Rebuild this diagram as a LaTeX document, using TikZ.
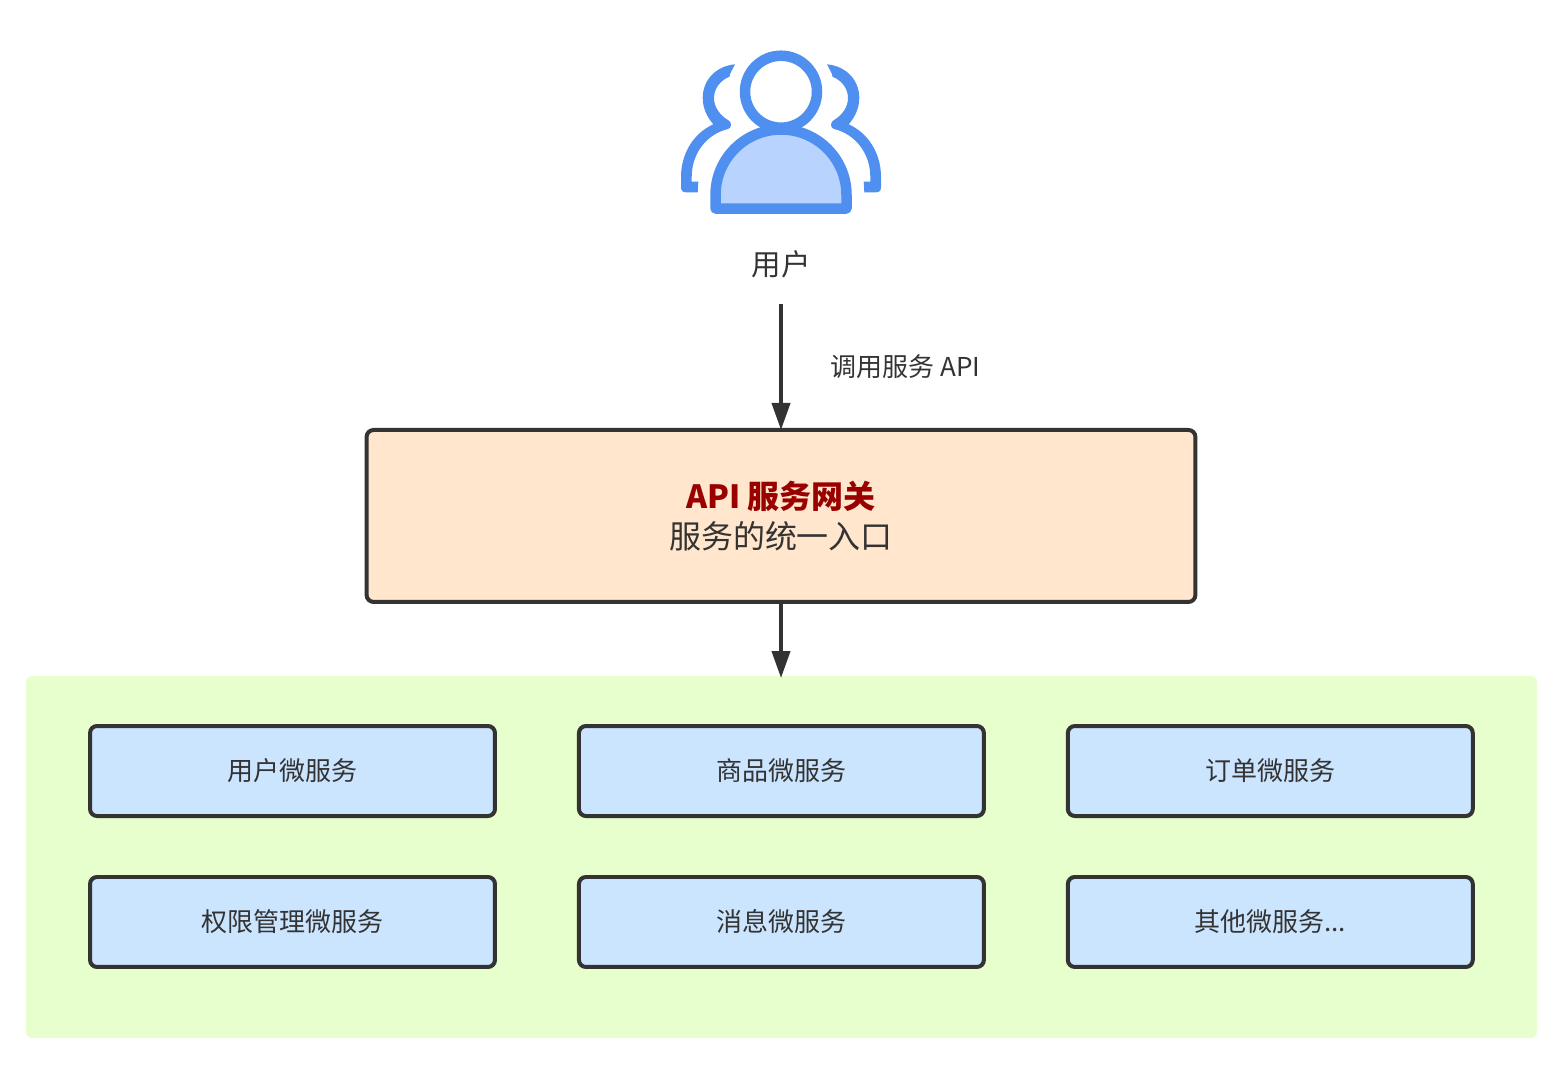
\documentclass[tikz,border=0pt]{standalone}
\usepackage{fontspec}
\setmainfont{Noto Sans CJK SC}
\usetikzlibrary{arrows.meta, positioning}
\definecolor{inkgray}{HTML}{333333}
\definecolor{iconblue}{HTML}{4F8FF0}
\definecolor{iconfill}{HTML}{B9D3FF}
\definecolor{gatefill}{HTML}{FFE6CC}
\definecolor{groupfill}{HTML}{E6FFCC}
\definecolor{svcfill}{HTML}{CCE5FF}
\definecolor{gatetitle}{HTML}{990000}

\begin{document}
\begin{tikzpicture}[
    x=0.02cm, y=-0.02cm,
    node distance=1.22cm and 1.68cm,
    text=inkgray,
    gateway/.style={rectangle, draw=inkgray, fill=gatefill, line width=0.08cm, rounded corners=0.14cm, outer sep=0pt, minimum width=16.58cm, minimum height=3.44cm, align=center, font=\fontsize{18.2}{22.8}\selectfont},
    service/.style={rectangle, draw=inkgray, fill=svcfill, line width=0.08cm, rounded corners=0.14cm, outer sep=0pt, minimum width=8.1cm, minimum height=1.8cm, font=\fontsize{14.8}{18}\selectfont},
    group_box/.style={rectangle, fill=groupfill, rounded corners=0.12cm, outer sep=0pt, minimum width=30.22cm, minimum height=7.24cm},
    arrow/.style={-{Triangle[length=0.54cm, width=0.36cm]}, line width=0.08cm, draw=inkgray},
    iconline/.style={draw=iconblue, line width=0.21cm, line join=round}
]
\useasboundingbox (0,0) rectangle (1567,1076);
% ---------------- USER ICON ----------------
\foreach \flip in {1,-1} {
  \begin{scope}[shift={(781,0)}, xscale=\flip]
    \fill[iconblue] (-46,64.3) .. controls (-65,66) and (-78.3,80) .. (-78.3,98)
      .. controls (-78.3,108) and (-74,117) .. (-67.7,124.3)
      .. controls (-87,133) and (-100,153) .. (-100,177) -- (-100,187)
      .. controls (-100,190.5) and (-98.5,192.3) .. (-95,192.3)
      -- (-83.3,192.3) -- (-82.7,181.7) -- (-89.3,181.7) -- (-89.3,177)
      .. controls (-89.3,153) and (-74,134) .. (-53,129)
      .. controls (-49,128) and (-49,122) .. (-53,120)
      .. controls (-60,116) and (-67,108) .. (-67,98)
      .. controls (-67,88) and (-60,80) .. (-51.5,76.7) -- (-51,74) -- cycle;
  \end{scope}
}
\draw[iconline, fill=white] (781,91.7) circle[radius=36];
\draw[iconline, fill=iconfill] (715.5,208.5) -- (715.5,195) arc[start angle=180, end angle=360, radius=65.5] -- (846.5,208.5) -- cycle;
% ---------------- NODES ----------------
\node[minimum height=1.6cm, inner sep=0pt, outer sep=0pt, font=\fontsize{16.8}{20}\selectfont] (user) at (781,264) {用户};
\node[gateway, below=2.52cm of user] (gate) {{\bfseries\color{gatetitle}API 服务网关}\\服务的统一入口};
\node[group_box] (services) at (781.5,857) {};
\node[service] (svcuser) at (292.5,771) {用户微服务};
\node[service, right=of svcuser] (svcgoods) {商品微服务};
\node[service, right=of svcgoods] (svcorder) {订单微服务};
\node[service, below=of svcuser] (svcauth) {权限管理微服务};
\node[service, right=of svcauth] (svcmsg) {消息微服务};
\node[service, right=of svcmsg] (svcother) {其他微服务...};
% ---------------- ARROWS ----------------
\draw[arrow] (user) -- node[right=0.84cm, font=\fontsize{14.8}{18}\selectfont] {调用服务 API} (gate);
\draw[arrow, shorten >=-0.04cm] (gate) -- (gate.south |- services.north);
\end{tikzpicture}
\end{document}
